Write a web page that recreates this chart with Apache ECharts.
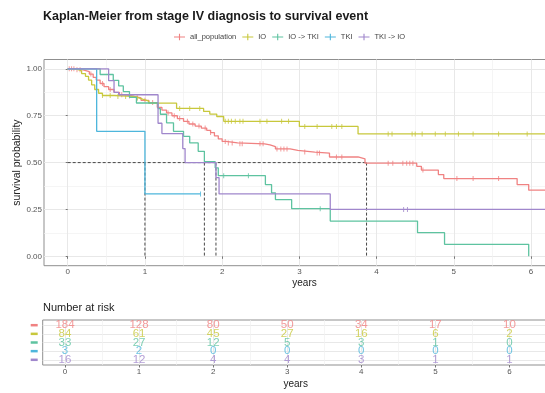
<!DOCTYPE html>
<html>
<head>
<meta charset="utf-8">
<script src="https://cdn.jsdelivr.net/npm/echarts@6/dist/echarts.min.js"></script>
<style>html,body{margin:0;padding:0;background:#fff}#c{width:545px;height:393px}</style>
</head>
<body>
<div id="c"></div>
<script>
// ---- data ----
const groups = ['all_population', 'IO', 'IO -> TKI', 'TKI', 'TKI -> IO'];
const colors = ['#F08282', '#C8C83C', '#5EC3A0', '#4EB6DC', '#A087CC'];
const yearTicks = [0, 1, 2, 3, 4, 5, 6];
const yearMinor = [0.5, 1.5, 2.5, 3.5, 4.5, 5.5];
const survTicks = [0, 0.25, 0.5, 0.75, 1];
const survMinor = [0.125, 0.375, 0.625, 0.875];

const allTime = [0,0.1,0.2,0.28,0.33,0.37,0.42,0.47,0.53,0.6,0.67,0.75,0.85,0.95,1.05,1.16,1.22,1.28,1.35,1.42,1.5,1.57,1.65,1.73,1.8,1.85,1.9,1.95,2.0,2.05,2.2,2.55,2.62,2.69,2.88,2.98,3.2,3.39,3.76,3.85,4.52,4.58,4.8,4.87,5.82,5.97,6.44];
const allSurv = [1,0.995,0.985,0.972,0.955,0.94,0.922,0.905,0.89,0.875,0.862,0.855,0.845,0.832,0.82,0.795,0.78,0.765,0.75,0.735,0.72,0.706,0.695,0.684,0.672,0.66,0.643,0.627,0.613,0.605,0.6,0.595,0.585,0.573,0.565,0.556,0.551,0.53,0.52,0.497,0.48,0.46,0.436,0.415,0.383,0.353,0.353];
const ioTime = [0,0.1,0.18,0.23,0.27,0.31,0.35,0.4,0.45,0.6,0.85,0.92,0.98,1.05,1.41,1.76,1.84,1.93,2.02,3.0,3.76,6.44];
const ioSurv = [1,0.99,0.975,0.96,0.94,0.915,0.89,0.87,0.858,0.853,0.845,0.837,0.828,0.817,0.789,0.773,0.759,0.746,0.72,0.693,0.653,0.653];
const ioTkiTime = [0,0.42,0.59,0.66,0.72,0.8,0.89,1.17,1.2,1.28,1.37,1.5,1.58,1.69,1.77,1.91,1.95,2.56,2.64,2.69,2.9,3.4,4.53,4.88,5.97];
const ioTkiSurv = [1,0.97,0.939,0.909,0.879,0.848,0.818,0.788,0.758,0.712,0.667,0.64,0.605,0.56,0.505,0.472,0.43,0.383,0.339,0.303,0.254,0.188,0.126,0.064,0];
const tkiTime = [0,0.375,1.0,1.72];
const tkiSurv = [1,0.667,0.333,0.333];
const tkiIoTime = [0,0.53,0.6,0.66,1.17,1.22,1.49,1.52,1.92,1.96,3.4,6.44];
const tkiIoSurv = [1,0.937,0.875,0.862,0.71,0.655,0.575,0.5,0.42,0.333,0.25,0.25];

const allCensor = [0.02,0.05,0.08,0.12,0.16,0.3,0.45,0.55,0.7,0.8,0.9,1.0,1.1,1.3,1.38,1.45,1.55,1.62,1.7,1.78,1.85,2.04,2.08,2.13,2.23,2.26,2.49,2.53,2.71,2.76,2.8,2.84,3.07,3.23,3.26,3.48,3.55,4.15,4.21,4.34,4.39,4.43,4.47,4.6,5.04,5.25,5.58];
const ioCensor = [0.45,0.55,0.65,0.75,0.9,1.45,1.58,1.71,2.04,2.08,2.12,2.17,2.23,2.27,2.49,2.58,2.77,2.86,3.07,3.23,3.42,3.48,3.55,4.15,4.2,4.46,4.5,4.59,4.76,4.89,5.06,5.25,5.58,5.95];
const ioTkiCensor = [2.02,2.34,3.27];
const tkiCensor = [1.72];
const tkiIoCensor = [4.35,4.4];

const medianSurv = 0.5;
const medianTimes = [1.0, 1.77, 1.92, 3.87];

const riskAll = [184,128,80,50,34,17,10];
const riskIO = [84,61,45,27,16,6,2];
const riskIOTKI = [33,27,12,5,3,1,0];
const riskTKI = [3,2,0,0,0,0,0];
const riskTKIIO = [16,12,4,4,3,1,1];
const riskRows = [1, 2, 3, 4, 5];

// ---- build ----
const curves = [
  [allTime, allSurv, allCensor, riskAll],
  [ioTime, ioSurv, ioCensor, riskIO],
  [ioTkiTime, ioTkiSurv, ioTkiCensor, riskIOTKI],
  [tkiTime, tkiSurv, tkiCensor, riskTKI],
  [tkiIoTime, tkiIoSurv, tkiIoCensor, riskTKIIO]
];
function survAt(times, surv, t) {
  let v = surv[0];
  for (let i = 0; i < times.length; i++) { if (times[i] <= t) v = surv[i]; }
  return v;
}
const series = [];
const txt = '#555';
const font = 'Liberation Sans, Arial, sans-serif';

const mMax = Math.max(...medianTimes);
series.push({ type: 'line', xAxisIndex: 0, yAxisIndex: 0, data: [[0, medianSurv], [mMax, medianSurv]],
  showSymbol: false, silent: true, z: 3, lineStyle: { color: '#333', width: 0.9, type: [3, 2] } });
medianTimes.forEach(t => series.push({ type: 'line', xAxisIndex: 0, yAxisIndex: 0,
  data: [[t, medianSurv], [t, 0]], showSymbol: false, silent: true, z: 3,
  lineStyle: { color: '#333', width: 0.9, type: [3, 2] } }));

curves.forEach((c, i) => {
  series.push({ name: groups[i], type: 'line', step: 'end', xAxisIndex: 0, yAxisIndex: 0,
    data: c[0].map((t, k) => [t, c[1][k]]), showSymbol: false, z: 5 + i,
    color: colors[i], lineStyle: { color: colors[i], width: 1.3 } });
  series.push({ name: groups[i] + ' censor', type: 'scatter', xAxisIndex: 0, yAxisIndex: 0,
    data: c[2].map(t => [t, survAt(c[0], c[1], t)]), symbol: 'rect', symbolSize: [1, 5], z: 5 + i,
    itemStyle: { color: colors[i] } });
  series.push({ name: groups[i] + ' risk', type: 'scatter', xAxisIndex: 2, yAxisIndex: 2,
    data: yearTicks.map((y, k) => [y, riskRows[i], c[3][k]]), symbolSize: 0, z: 10,
    label: { show: true, position: 'inside', formatter: p => String(p.data[2]),
      color: colors[i], fontSize: 11.5, fontFamily: font } });
});

const rich = {};
colors.forEach((c, i) => { rich['k' + i] = { width: 7, height: 2.5, lineHeight: 3, backgroundColor: c }; });

const majorGrid = { show: true, lineStyle: { color: '#e8e8e8', width: 1 } };
const minorGrid = { show: true, lineStyle: { color: '#f1f1f1', width: 0.7 } };
const hidden = { axisLine: { show: false }, axisTick: { show: false }, axisLabel: { show: false } };

const option = {
  animation: false,
  backgroundColor: '#fff',
  title: [
    { text: 'Kaplan-Meier from stage IV diagnosis to survival event', left: 43, top: 10, padding: 0,
      textStyle: { fontSize: 12.5, fontWeight: 'bold', color: '#1a1a1a', fontFamily: font } },
    { text: 'Number at risk', left: 43, top: 302, padding: 0,
      textStyle: { fontSize: 11, fontWeight: 'normal', color: '#222', fontFamily: font } }
  ],
  legend: {
    data: groups.map(g => ({ name: g, icon: 'path://M0,4.4h12v1.2h-12z M5.4,1.5h1.2v7h-1.2z' })),
    left: 169, top: 28, itemWidth: 11, itemHeight: 9, itemGap: 6,
    textStyle: { fontSize: 7.5, color: '#444', fontFamily: font }
  },
  grid: [
    { left: 44, top: 59.5, width: 521, height: 206.2, show: true, borderColor: '#8f8f8f', borderWidth: 1,
      backgroundColor: '#fff', outerBoundsMode: 'none', containLabel: false },
    { left: 42.7, top: 320, width: 506, height: 45, show: true, borderColor: '#8f8f8f', borderWidth: 1,
      backgroundColor: '#fff', outerBoundsMode: 'none', containLabel: false }
  ],
  xAxis: [
    { type: 'value', gridIndex: 0, min: -0.307, max: 6.44,
      name: 'years', nameLocation: 'middle', nameGap: 13, nameMoveOverlap: false,
      nameTextStyle: { fontSize: 10, color: '#222', fontFamily: font },
      axisLine: { show: false },
      axisTick: { show: true, length: 2.5, customValues: yearTicks, lineStyle: { color: '#777' } },
      axisLabel: { customValues: yearTicks, fontSize: 8, color: txt, margin: 2.5, fontFamily: font },
      splitLine: majorGrid },
    Object.assign({ type: 'value', gridIndex: 0, min: -0.307, max: 6.44, splitLine: minorGrid }, hidden,
      { axisTick: { show: false, customValues: yearMinor }, axisLabel: { show: false, customValues: yearMinor } }),
    { type: 'value', gridIndex: 1, min: -0.301, max: 6.53,
      name: 'years', nameLocation: 'middle', nameGap: 14, nameMoveOverlap: false,
      nameTextStyle: { fontSize: 10, color: '#222', fontFamily: font },
      axisLine: { show: false },
      axisTick: { show: true, length: 2.5, customValues: yearTicks, lineStyle: { color: '#777' } },
      axisLabel: { customValues: yearTicks, fontSize: 8, color: txt, margin: 2.5, fontFamily: font },
      splitLine: majorGrid },
    Object.assign({ type: 'value', gridIndex: 1, min: -0.301, max: 6.53, splitLine: minorGrid }, hidden,
      { axisTick: { show: false, customValues: yearMinor }, axisLabel: { show: false, customValues: yearMinor } })
  ],
  yAxis: [
    { type: 'value', gridIndex: 0, min: -0.05, max: 1.05,
      name: 'survival probability', nameLocation: 'middle', nameGap: 21, nameMoveOverlap: false,
      nameTextStyle: { fontSize: 10.5, color: '#222', fontFamily: font },
      axisLine: { show: false },
      axisTick: { show: true, length: 2, customValues: survTicks, lineStyle: { color: '#777' } },
      axisLabel: { customValues: survTicks, fontSize: 8, color: txt, margin: 2, fontFamily: font,
        formatter: v => v.toFixed(2) },
      splitLine: majorGrid },
    Object.assign({ type: 'value', gridIndex: 0, min: -0.05, max: 1.05, splitLine: minorGrid }, hidden,
      { axisTick: { show: false, customValues: survMinor }, axisLabel: { show: false, customValues: survMinor } }),
    { type: 'value', gridIndex: 1, min: 0.4, max: 5.6, inverse: true,
      axisLine: { show: false },
      axisTick: { show: false, customValues: riskRows },
      axisLabel: { customValues: riskRows, margin: 5, showMinLabel: true, showMaxLabel: true,
        hideOverlap: false, fontSize: 3, lineHeight: 3,
        formatter: v => '{k' + (v - 1) + '|}', rich: rich },
      splitLine: majorGrid }
  ],
  series: series
};
echarts.init(document.getElementById('c'), null, { renderer: 'canvas' }).setOption(option);
</script>
</body>
</html>
